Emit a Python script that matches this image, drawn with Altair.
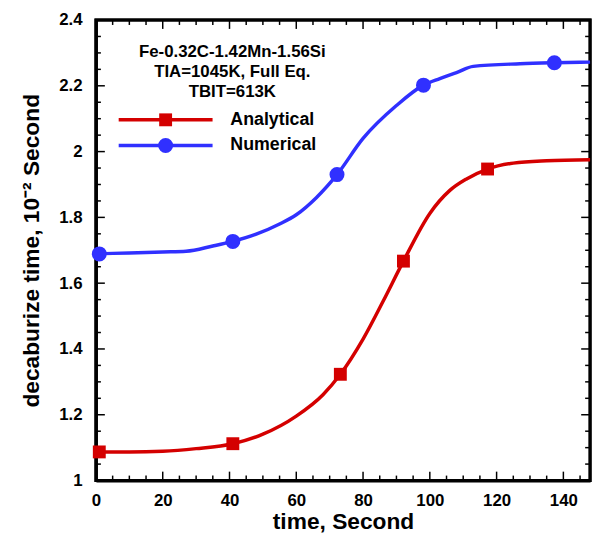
import altair as alt
import pandas as pd

series_names = ["Analytical", "Numerical"]
series_colors = ["#d40000", "#3030ff"]

# curve readings (time, value)
ana_t = [0, 10, 20, 30, 41, 50, 60, 68, 73.2, 80, 86, 92.1, 100, 106, 111, 117.3, 125, 135, 148]
ana_v = [1.087, 1.087, 1.089, 1.097, 1.112, 1.141, 1.196, 1.261, 1.323, 1.43, 1.545, 1.667, 1.812, 1.882, 1.917, 1.947, 1.965, 1.972, 1.975]
num_t = [0, 10, 20, 27, 35, 41, 48, 55, 60, 66, 72.2, 80, 90, 98.1, 103, 108, 113, 127, 137.3, 148]
num_v = [1.689, 1.692, 1.695, 1.697, 1.713, 1.727, 1.749, 1.78, 1.808, 1.86, 1.930, 2.04, 2.14, 2.202, 2.222, 2.24, 2.259, 2.267, 2.270, 2.272]

# marker readings
ana_mt = [1, 41, 73.2, 92.1, 117.3]
ana_mv = [1.087, 1.112, 1.323, 1.667, 1.947]
num_mt = [1, 41, 72.2, 98.1, 137.3]
num_mv = [1.689, 1.727, 1.930, 2.202, 2.270]

title_lines = ["Fe-0.32C-1.42Mn-1.56Si", "TIA=1045K, Full Eq.", "TBIT=613K"]

x_major = [0, 20, 40, 60, 80, 100, 120, 140]
y_major = [1.0, 1.2, 1.4, 1.6, 1.8, 2.0, 2.2, 2.4]

X_DOM = [0, 148]
Y_DOM = [1.0, 2.4]
W, H = 500, 466
FONT = "Liberation Sans"
INK = "#000000"

curve_df = pd.concat([
    pd.DataFrame({"t": ana_t, "v": ana_v, "series": series_names[0]}),
    pd.DataFrame({"t": num_t, "v": num_v, "series": series_names[1]}),
])
mark_df = pd.concat([
    pd.DataFrame({"t": ana_mt, "v": ana_mv, "series": series_names[0]}),
    pd.DataFrame({"t": num_mt, "v": num_mv, "series": series_names[1]}),
])

xs = alt.Scale(domain=X_DOM, nice=False, zero=False)
ys = alt.Scale(domain=Y_DOM, nice=False, zero=False)
cs = alt.Scale(domain=series_names, range=series_colors)

x_axis = alt.Axis(
    values=x_major, ticks=False, domain=True, domainColor=INK, domainWidth=3, grid=False,
    title="time, Second",
    labelFont=FONT, labelFontSize=17, labelFontWeight="bold", labelColor=INK,
    labelPadding=12, labelFlush=False,
    titleFont=FONT, titleFontSize=23, titleFontWeight="bold", titleColor=INK, titlePadding=3)
y_axis = alt.Axis(
    values=y_major, ticks=False, domain=True, domainColor=INK, domainWidth=3, grid=False,
    title="decaburize time, 10⁻² Second",
    labelFont=FONT, labelFontSize=17, labelFontWeight="bold", labelColor=INK,
    labelPadding=14, labelFlush=False, format="~g",
    titleFont=FONT, titleFontSize=23, titleFontWeight="bold", titleColor=INK, titlePadding=16)

# frame and inward ticks on all four sides
one = alt.Data(values=[{}])
frame = alt.Chart(one).mark_rect(fill=None, fillOpacity=0, stroke=INK, strokeWidth=3).encode(
    x=alt.value(0), x2=alt.value(W), y=alt.value(0), y2=alt.value(H))

x_minor = [v for v in range(0, 150, 5) if v % 20 != 0 and v <= X_DOM[1]]
y_minor = [round(1.0 + 0.05 * i, 2) for i in range(29)]
y_minor = [v for v in y_minor if abs(v * 5 - round(v * 5)) > 1e-6]
tick_layers = []
for vals, ln in [(x_major, 9), (x_minor, 5)]:
    d = pd.DataFrame({"t": vals})
    tick_layers.append(alt.Chart(d).mark_rule(color=INK, strokeWidth=1.5).encode(
        x=alt.X("t:Q", scale=xs, axis=x_axis), y=alt.value(H), y2=alt.value(H - ln)))
    tick_layers.append(alt.Chart(d).mark_rule(color=INK, strokeWidth=1.5).encode(
        x=alt.X("t:Q", scale=xs), y=alt.value(0), y2=alt.value(ln)))
for vals, ln in [(y_major, 9), (y_minor, 5)]:
    d = pd.DataFrame({"v": vals})
    tick_layers.append(alt.Chart(d).mark_rule(color=INK, strokeWidth=1.5).encode(
        y=alt.Y("v:Q", scale=ys, axis=y_axis), x=alt.value(0), x2=alt.value(ln)))
    tick_layers.append(alt.Chart(d).mark_rule(color=INK, strokeWidth=1.5).encode(
        y=alt.Y("v:Q", scale=ys), x=alt.value(W), x2=alt.value(W - ln)))

curves = alt.Chart(curve_df).mark_line(strokeWidth=3.5, interpolate="monotone").encode(
    x=alt.X("t:Q", scale=xs), y=alt.Y("v:Q", scale=ys),
    color=alt.Color("series:N", scale=cs, legend=None), detail="series:N")

sq = alt.Chart(mark_df[mark_df.series == series_names[0]]).mark_point(
    shape="square", filled=True, opacity=1, size=170, color=series_colors[0]).encode(
    x=alt.X("t:Q", scale=xs), y=alt.Y("v:Q", scale=ys))
ci = alt.Chart(mark_df[mark_df.series == series_names[1]]).mark_point(
    shape="circle", filled=True, opacity=1, size=230, color=series_colors[1]).encode(
    x=alt.X("t:Q", scale=xs), y=alt.Y("v:Q", scale=ys))

annot = []
for i, line in enumerate(title_lines):
    annot.append(alt.Chart(one).mark_text(
        font=FONT, fontSize=17, fontWeight="bold", color=INK, align="center", baseline="middle").encode(
        x=alt.value(138), y=alt.value(32 + 20.5 * i), text=alt.value(line)))

shapes = ["square", "circle"]
sizes = [170, 230]
for i, name in enumerate(series_names):
    yy = 101 + 26 * i
    annot.append(alt.Chart(one).mark_rule(color=series_colors[i], strokeWidth=3.5).encode(
        x=alt.value(23), x2=alt.value(118), y=alt.value(yy)))
    annot.append(alt.Chart(one).mark_point(shape=shapes[i], filled=True, opacity=1, size=sizes[i],
                                           color=series_colors[i]).encode(
        x=alt.value(70.5), y=alt.value(yy)))
    annot.append(alt.Chart(one).mark_text(
        font=FONT, fontSize=18, fontWeight="bold", color=INK, align="left", baseline="middle").encode(
        x=alt.value(136), y=alt.value(yy), text=alt.value(name)))

chart = alt.layer(*tick_layers, frame, curves, sq, ci, *annot).properties(
    width=W, height=H,
    padding={"left": 12, "top": 0, "right": 0, "bottom": 2},
).configure_view(stroke=INK, strokeWidth=3)

chart.save("out.html", embed_options={"renderer": "svg", "actions": False})
